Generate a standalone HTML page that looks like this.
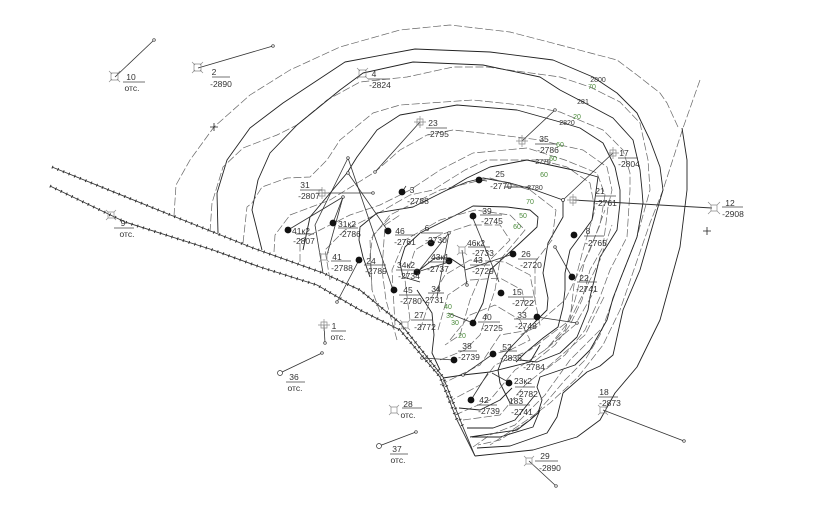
<!DOCTYPE html>
<html><head><meta charset="utf-8"><style>
html,body{margin:0;padding:0;background:#fff;width:826px;height:531px;overflow:hidden}
svg{display:block;filter:blur(.35px)}
text{font:8.5px "Liberation Sans",sans-serif;fill:#333;text-anchor:middle}
.g text{fill:#4a8a3a;font-size:7px}
.t text{font-size:7px;fill:#333}
.s{fill:none;stroke:#222;stroke-width:.9;stroke-linejoin:round}
.d{fill:none;stroke:#666;stroke-width:.7;stroke-dasharray:8 2.5;stroke-linejoin:round}
.l{stroke:#333;stroke-width:.8;fill:none}
.u{stroke:#444;stroke-width:.8}
.y{fill:none;stroke:#888;stroke-width:.7}
</style></head><body>
<svg width="826" height="531" viewBox="0 0 826 531" xmlns="http://www.w3.org/2000/svg">
<g fill="none" stroke="#333">
<polyline stroke-width=".9" points="52,167 173,216 253,248 323,273 360,290 400,323 443,377 463,427 475,456"/>
<polyline stroke-width=".9" points="50,186 125,222 213,250 260,267 317,285 360,310 400,330 440,377 457,420 475,456"/>
<polyline stroke-width="3" stroke-dasharray="1 5" points="52,167 173,216 253,248 323,273 360,290 400,323 443,377 463,427"/>
<polyline stroke-width="3" stroke-dasharray="1 5" points="50,186 125,222 213,250 260,267 317,285 360,310 400,330 440,377 457,420"/>
</g>
<!-- outer -->
<polyline class="d" points="174,216 176,185 190,160 214,127 250,95 290,70 340,47 400,30 450,25 510,32 560,45 617,60 637,75 660,93 667,103 678,127"/>
<polyline class="d" points="700,80 683,128 663,190 650,223 620,310 603,345 578,377 550,403 530,418 490,445"/>
<polyline class="s" points="218,233 217,193 227,160 250,128 283,103 345,62 415,49 490,52 553,60 593,77 617,93 637,113 650,140 660,167 663,190 658,207 640,270 623,310 613,355 600,366 587,372 563,393 557,417 547,433 510,446 477,448"/>
<polyline class="s" points="682,128 687,160 687,190 680,247 660,320 637,367 615,393 600,420 577,437 533,450 475,456"/>
<polyline class="d" points="210,232 212,203 223,167 243,148 277,135 297,125 327,100 360,82 407,77 453,67 487,67 560,77 590,87 620,102 640,123 648,160 650,190 637,237 620,280 600,335 585,360 565,380 548,400 530,420 500,440 478,445"/>
<polyline class="s" points="262,250 252,210 258,180 270,153 297,125 340,90 363,73 413,62 483,65 540,77 560,90 583,102 613,118 633,140 640,170 642,190 643,203 637,237 620,280 613,298 607,320 590,350 575,365 540,377 537,387 542,400 538,413 530,420 517,430 470,437"/>
<!-- inner upper arcs -->
<polyline class="d" points="243,243 247,207 252,203 262,187 287,178 310,177 327,160 340,140 373,113 400,105 473,100 530,106 560,112 603,130 623,150 630,173 630,190 627,237 610,270 600,297 585,330 565,355 545,370"/>
<polyline class="s" points="303,250 310,217 347,173 357,157 377,130 400,115 457,105 517,110 560,122 580,128 603,143 615,167 620,190 620,203 617,230 600,257 590,297 588,310 577,337 560,353 537,362 520,360"/>
<polyline class="d" points="274,252 275,235 290,215 330,200 375,172 400,150 427,135 453,130 500,135 540,140 560,145 583,150 607,167 612,190 608,207 603,247 590,270 582,300 570,325 555,345 530,365"/>
<polyline class="d" points="300,262 300,240 320,230 350,215 380,205 410,190 440,170 473,153 527,148 565,160 597,173 605,195 600,225 585,260 575,300 565,330 545,350"/>
<polyline class="d" points="330,280 325,250 345,230 375,215 410,195 433,190 465,170 487,160 540,160 567,167 590,183 595,210 583,250 574,285 570,320 550,345"/>
<polyline class="s" points="370,277 363,257 359,240 360,227 377,213 413,207 447,190 467,178 490,167 527,160 573,170 598,177 592,220 570,250 565,273 565,290 563,307 558,327 543,338 525,353 516,362"/>
<polyline class="s" points="447,190 467,182 483,178 510,183 535,190 563,200 563,217 548,243 543,273 548,298 547,310 535,322 513,345 503,357 498,370 500,383 510,403"/>
<polyline class="s" points="420,233 460,213 473,206 507,207 530,210 538,217 537,227 520,243 490,270 483,303 473,323"/>
<polyline class="s" points="420,233 405,247 400,263 403,277 420,282"/>
<polyline class="s" points="417,290 432,313 434,335 432,353 440,370"/>
<polyline class="d" points="397,340 386,300 382,270 385,225 400,215"/>
<polyline class="d" points="380,312 372,290 370,255 373,235 390,218"/>
<polyline class="s" points="417,272 435,258 450,258 465,268"/>
<!-- inner dashed -->
<polyline class="d" points="372,290 370,240 390,215 440,190 490,178 530,190 556,210 552,240 535,262 535,300 540,325 520,335"/>
<polyline class="d" points="395,325 392,270 405,240 440,220 475,210 510,215 525,230 500,260 495,290 480,335 465,350 440,360"/>
<polyline class="d" points="410,320 405,280 415,250 440,235 470,225 500,225 510,240 485,265 470,300 460,335 445,345"/>
<polyline class="d" points="420,330 430,300 445,275 470,260 505,262 530,275 535,300 520,315"/>
<polyline class="d" points="438,330 448,295 470,280 500,278 522,290 525,305"/>
<polyline class="d" points="450,340 470,315 495,305 520,320 530,340 510,350 490,355"/>
<polyline class="d" points="440,385 480,365 500,335 530,330 565,300 590,250 605,210"/>
<polyline class="d" points="448,402 480,385 495,365 530,350 570,320 600,260 612,225"/>
<polyline class="d" points="455,415 490,400 515,370 545,350 575,325 595,290"/>
<polyline class="d" points="463,420 500,415 525,385 550,365 585,335 605,295"/>
<polyline class="d" points="473,447 490,435 515,425 545,395 570,360 600,330"/>
<!-- bottom solid -->
<polyline class="s" points="443,378 463,375 490,372 530,362 540,345"/>
<polyline class="s" points="459,408 480,410 500,400 512,388"/>
<polyline class="s" points="467,428 493,428 515,420 535,395"/>
<polyline class="s" points="472,437 500,437 533,427 540,410"/>
<!-- connectors -->
<g class="l">
<line x1="115" y1="77" x2="154" y2="40"/><line x1="198" y1="68" x2="273" y2="46"/>
<line x1="420" y1="122" x2="375" y2="172"/><line x1="522" y1="141" x2="555" y2="110"/>
<line x1="613" y1="153" x2="563" y2="200"/><line x1="322" y1="193" x2="373" y2="193"/>
<line x1="479" y1="180" x2="487" y2="181"/><line x1="402" y1="192" x2="406" y2="186"/>
<line x1="573" y1="200" x2="712" y2="208" stroke-width="1"/>
<line x1="348" y1="158" x2="393" y2="290"/><line x1="348" y1="173" x2="388" y2="231"/>
<polyline points="348,158 315,225 323,273"/><line x1="343" y1="197" x2="327" y2="255"/><line x1="343" y1="197" x2="333" y2="223"/>
<line x1="359" y1="260" x2="337" y2="302"/><line x1="288" y1="230" x2="343" y2="197"/>
<line x1="449" y1="233" x2="437" y2="297"/><line x1="449" y1="233" x2="417" y2="273"/><line x1="417" y1="272" x2="449" y2="262"/>
<line x1="472" y1="216" x2="499" y2="282"/><line x1="513" y1="254" x2="465" y2="270"/><line x1="462" y1="250" x2="467" y2="285"/>
<line x1="555" y1="247" x2="572" y2="277"/><line x1="537" y1="317" x2="577" y2="323"/>
<line x1="422" y1="358" x2="454" y2="360"/><line x1="493" y1="354" x2="463" y2="375"/>
<line x1="510" y1="383" x2="492" y2="373"/><line x1="471" y1="400" x2="488" y2="373"/>
<line x1="473" y1="323" x2="448" y2="313"/>
<line x1="603" y1="410" x2="684" y2="441"/><line x1="529" y1="461" x2="556" y2="486"/>
<line x1="379" y1="446" x2="416" y2="432"/><line x1="280" y1="373" x2="322" y2="353"/>
<line x1="324" y1="325" x2="325" y2="343"/>
</g>
<g fill="#fff" stroke="#333" stroke-width=".7">
<circle cx="154" cy="40" r="1.3"/><circle cx="273" cy="46" r="1.3"/><circle cx="375" cy="172" r="1.3"/><circle cx="555" cy="110" r="1.3"/><circle cx="563" cy="200" r="1.5"/><circle cx="373" cy="193" r="1.3"/><circle cx="348" cy="158" r="1.3"/><circle cx="348" cy="173" r="1.3"/><circle cx="343" cy="197" r="1.3"/><circle cx="337" cy="302" r="1.3"/><circle cx="449" cy="233" r="1.3"/><circle cx="467" cy="285" r="1.3"/><circle cx="555" cy="247" r="1.3"/><circle cx="577" cy="323" r="1.3"/><circle cx="422" cy="358" r="1.3"/><circle cx="463" cy="375" r="1.3"/><circle cx="684" cy="441" r="1.3"/><circle cx="556" cy="486" r="1.3"/><circle cx="416" cy="432" r="1.3"/><circle cx="322" cy="353" r="1.3"/><circle cx="325" cy="343" r="1.3"/><circle cx="280" cy="373" r="2.5"/><circle cx="379" cy="446" r="2.5"/>
</g>
<g fill="#111">
<circle cx="288" cy="230" r="3.4"/><circle cx="333" cy="223" r="3.4"/><circle cx="402" cy="192" r="3.4"/><circle cx="388" cy="231" r="3.4"/><circle cx="359" cy="260" r="3.4"/><circle cx="394" cy="290" r="3.4"/><circle cx="417" cy="272" r="3.4"/><circle cx="431" cy="243" r="3.4"/><circle cx="449" cy="261" r="3.4"/><circle cx="479" cy="180" r="3.4"/><circle cx="473" cy="216" r="3.4"/><circle cx="513" cy="254" r="3.4"/><circle cx="574" cy="235" r="3.4"/><circle cx="572" cy="277" r="3.4"/><circle cx="501" cy="293" r="3.4"/><circle cx="537" cy="317" r="3.4"/><circle cx="473" cy="323" r="3.4"/><circle cx="454" cy="360" r="3.4"/><circle cx="493" cy="354" r="3.4"/><circle cx="509" cy="383" r="3.4"/><circle cx="471" cy="400" r="3.4"/>
</g>
<g class="y">
<path d="M111 73h7v7h-7zM109 71l3 3M120 71l-3 3M109 82l3-3M120 82l-3-3"/>
<path d="M194 64h7v7h-7zM192 62l3 3M203 62l-3 3M192 73l3-3M203 73l-3-3"/>
<path d="M359 70h7v7h-7zM357 68l3 3M368 68l-3 3M357 79l3-3M368 79l-3-3"/>
<path d="M417 119h6v6h-6zM414 122h12M420 116v12"/>
<path d="M519 138h6v6h-6zM516 141h12M522 135v12"/>
<path d="M610 150h6v6h-6zM607 153h12M613 147v12"/>
<path d="M319 190h6v6h-6zM316 193h12M322 187v12"/>
<path d="M570 197h6v6h-6zM567 200h12M573 194v12"/>
<path d="M711 205h6v6h-6zM708 202l3 3M720 202l-3 3M708 214l3-3M720 214l-3-3"/>
<path d="M321 254h6v6h-6zM319 252l2 2M329 252l-2 2M319 262l2-2M329 262l-2-2"/>
<path d="M108 212h6v6h-6zM106 210l2 2M116 210l-2 2M106 220l2-2M116 220l-2-2"/>
<path d="M391 407h6v6h-6zM389 405l2 2M399 405l-2 2M389 415l2-2M399 415l-2-2"/>
<path d="M526 458h6v6h-6zM524 456l2 2M534 456l-2 2M524 466l2-2M534 466l-2-2"/>
<path d="M600 407h6v6h-6zM598 405l2 2M608 405l-2 2M598 415l2-2M608 415l-2-2"/>
<path d="M321 322h6v6h-6zM318 325h12M324 319v12"/>
<path d="M402 322h6v6h-6zM400 320l2 2M410 320l-2 2M400 330l2-2M410 330l-2-2"/>
<path d="M459 247h6v6h-6zM457 245l2 2M467 245l-2 2M457 255l2-2M467 255l-2-2"/>
</g>
<path d="M703 231h8M707 227v8M210 127h8M214 123v8" stroke="#222" stroke-width=".8" fill="none"/>
<g class="u">
<line x1="123" y1="82" x2="145" y2="82"/><line x1="212" y1="77" x2="230" y2="77"/><line x1="368" y1="79" x2="390" y2="79"/><line x1="426" y1="128" x2="447" y2="128"/><line x1="535" y1="144" x2="557" y2="144"/><line x1="618" y1="158" x2="638" y2="158"/><line x1="300" y1="190" x2="322" y2="190"/><line x1="596" y1="196" x2="616" y2="196"/><line x1="722" y1="207" x2="743" y2="207"/><line x1="114" y1="228" x2="134" y2="228"/>
<line x1="296" y1="234" x2="314" y2="234"/><line x1="338" y1="228" x2="358" y2="228"/><line x1="395" y1="235" x2="415" y2="235"/><line x1="421" y1="233" x2="443" y2="233"/><line x1="331" y1="261" x2="351" y2="261"/><line x1="364" y1="265" x2="386" y2="265"/><line x1="399" y1="295" x2="420" y2="295"/><line x1="411" y1="320" x2="433" y2="320"/><line x1="396" y1="270" x2="418" y2="270"/><line x1="428" y1="262" x2="450" y2="262"/><line x1="428" y1="293" x2="444" y2="293"/>
<line x1="505" y1="187" x2="530" y2="187" stroke-width="1"/>
<line x1="480" y1="215" x2="502" y2="215"/><line x1="518" y1="259" x2="538" y2="259"/><line x1="584" y1="236" x2="604" y2="236"/><line x1="577" y1="282" x2="597" y2="282"/><line x1="508" y1="297" x2="533" y2="297"/><line x1="514" y1="319" x2="534" y2="319"/><line x1="478" y1="322" x2="500" y2="322"/><line x1="458" y1="351" x2="477" y2="351"/><line x1="500" y1="351" x2="517" y2="351"/><line x1="515" y1="387" x2="535" y2="387"/><line x1="477" y1="405" x2="497" y2="405"/><line x1="509" y1="405" x2="530" y2="405"/><line x1="402" y1="408" x2="422" y2="408"/><line x1="390" y1="454" x2="408" y2="454"/><line x1="286" y1="382" x2="305" y2="382"/><line x1="331" y1="331" x2="346" y2="331"/><line x1="535" y1="461" x2="558" y2="461"/><line x1="598" y1="397" x2="618" y2="397"/><line x1="468" y1="247" x2="490" y2="247"/><line x1="470" y1="265" x2="490" y2="265"/>
</g>
<text x="131" y="80">10</text><text x="132" y="91">отс.</text>
<text x="214" y="75">2</text><text x="221" y="87">-2890</text>
<text x="374" y="77">4</text><text x="380" y="88">-2824</text>
<text x="433" y="126">23</text><text x="438" y="137">-2795</text>
<text x="544" y="142">35</text><text x="548" y="153">-2786</text>
<text x="624" y="156">17</text><text x="629" y="167">-2804</text>
<text x="500" y="177">25</text><text x="501" y="189">-2770</text>
<text x="412" y="193">3</text><text x="418" y="204">-2788</text>
<text x="305" y="188">31</text><text x="309" y="199">-2807</text>
<text x="600" y="194">21</text><text x="606" y="206">-2761</text>
<text x="730" y="206">12</text><text x="733" y="217">-2908</text>
<text x="123" y="226">9</text><text x="127" y="237">отс.</text>
<text x="301" y="234">41к2</text><text x="304" y="244">-2807</text>
<text x="347" y="227">31к2</text><text x="350" y="237">-2786</text>
<text x="400" y="234">46</text><text x="405" y="245">-2761</text>
<text x="427" y="231">6</text><text x="436" y="243">-2730</text>
<text x="337" y="260">41</text><text x="342" y="271">-2788</text>
<text x="371" y="264">24</text><text x="376" y="274">-2789</text>
<text x="408" y="293">45</text><text x="411" y="304">-2780</text>
<text x="419" y="318">27</text><text x="425" y="330">-2772</text>
<text x="406" y="268">34к2</text><text x="409" y="279">-2734</text>
<text x="440" y="260">43к1</text><text x="438" y="272">-2737</text>
<text x="436" y="292">34</text><text x="433" y="303">-2731</text>
<text x="476" y="246">46к2</text><text x="483" y="256">-2733</text>
<text x="478" y="263">43</text><text x="483" y="274">-2729</text>
<text x="487" y="214">39</text><text x="492" y="224">-2745</text>
<text x="526" y="257">26</text><text x="531" y="268">-2720</text>
<text x="588" y="234">8</text><text x="596" y="246">-2765</text>
<text x="584" y="281">22</text><text x="587" y="292">-2741</text>
<text x="517" y="295">15</text><text x="523" y="306">-2722</text>
<text x="522" y="318">33</text><text x="526" y="329">-2748</text>
<text x="487" y="320">40</text><text x="492" y="331">-2725</text>
<text x="467" y="349">38</text><text x="469" y="360">-2739</text>
<text x="507" y="350">52</text><text x="511" y="361">-2835</text>
<text x="534" y="370">-2784</text>
<text x="523" y="384">23к2</text><text x="527" y="397">-2782</text>
<text x="484" y="403">42</text><text x="489" y="414">-2739</text>
<text x="516" y="404">183</text><text x="522" y="415">-2741</text>
<text x="408" y="407">28</text><text x="408" y="418">отс.</text>
<text x="397" y="452">37</text><text x="398" y="463">отс.</text>
<text x="294" y="380">36</text><text x="295" y="391">отс.</text>
<text x="334" y="329">1</text><text x="338" y="340">отс.</text>
<text x="545" y="459">29</text><text x="550" y="471">-2890</text>
<text x="604" y="395">18</text><text x="610" y="406">-2873</text>
<g class="g">
<text x="592" y="89">70</text><text x="577" y="119">20</text><text x="560" y="147">60</text><text x="553" y="161">60</text><text x="544" y="177">60</text><text x="530" y="204">70</text><text x="523" y="218">50</text><text x="517" y="229">60</text><text x="448" y="309">40</text><text x="450" y="318">30</text><text x="455" y="325">30</text><text x="462" y="338">20</text>
</g>
<g class="t">
<text x="598" y="82">2800</text><text x="583" y="104">281</text><text x="567" y="125">2820</text><text x="543" y="164">2775</text><text x="535" y="190">2780</text>
</g>
<script>
document.querySelectorAll('polyline.s,polyline.d').forEach(function(e){
var n=e.getAttribute('points').trim().split(/\s+/).map(function(p){return p.split(',').map(Number)});
var d='M'+n[0].join(' ');
for(var i=0;i<n.length-1;i++){
var a=n[Math.max(i-1,0)],b=n[i],c=n[i+1],f=n[Math.min(i+2,n.length-1)];
d+='C'+(b[0]+(c[0]-a[0])/6).toFixed(1)+' '+(b[1]+(c[1]-a[1])/6).toFixed(1)+' '+(c[0]-(f[0]-b[0])/6).toFixed(1)+' '+(c[1]-(f[1]-b[1])/6).toFixed(1)+' '+c[0]+' '+c[1];
}
var p=document.createElementNS('http://www.w3.org/2000/svg','path');
p.setAttribute('class',e.getAttribute('class'));p.setAttribute('d',d);
e.parentNode.replaceChild(p,e);
});
</script>
</svg>
</body></html>
